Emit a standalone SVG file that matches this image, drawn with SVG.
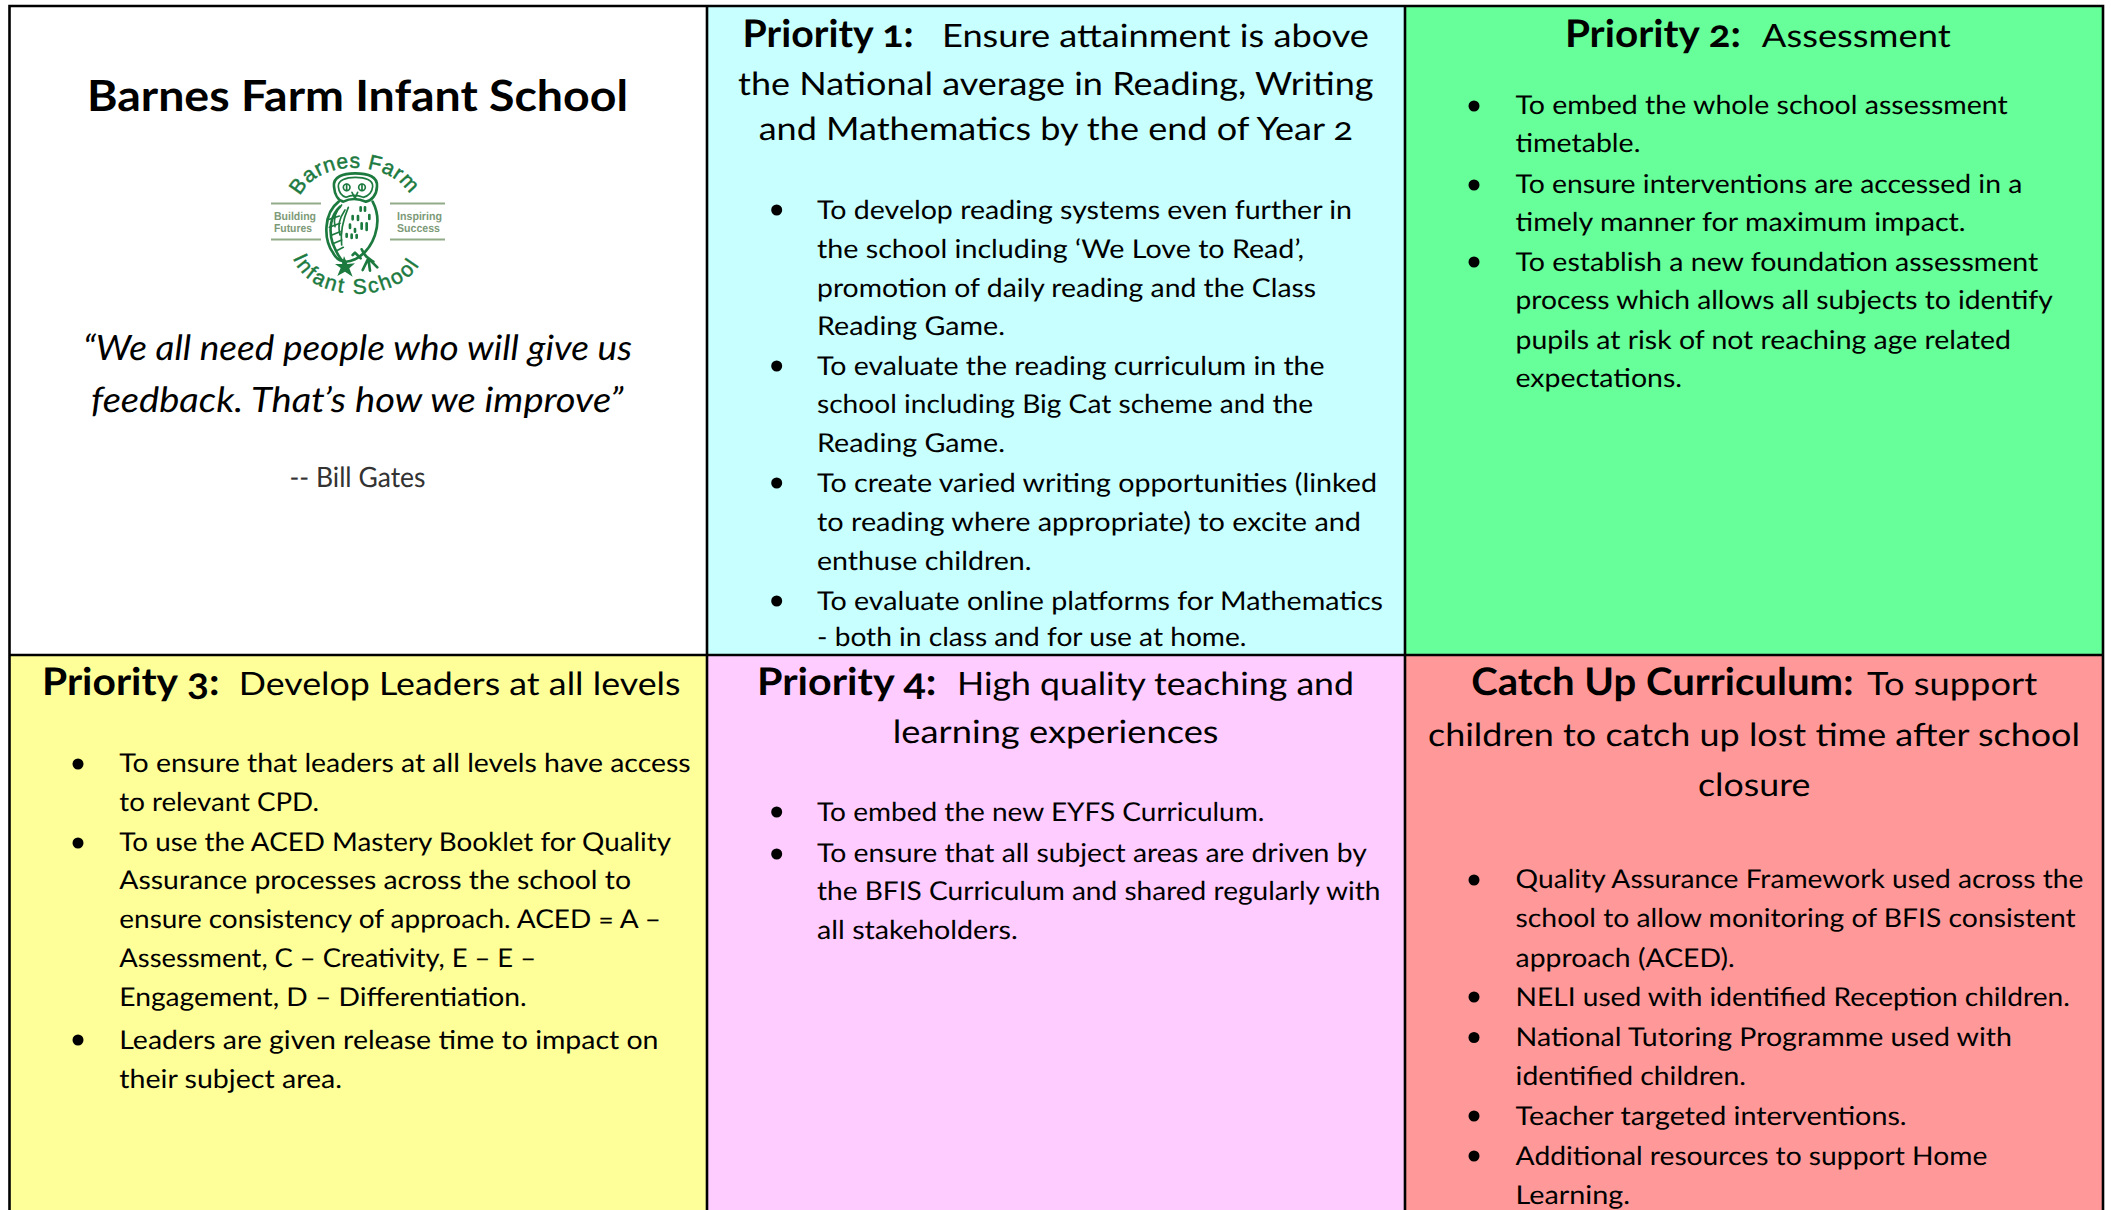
<svg xmlns="http://www.w3.org/2000/svg" width="2111" height="1210" viewBox="0 0 2111 1210">
<style>
text{font-family:"Lato","Noto Sans","Liberation Sans",sans-serif;fill:#000;font-variant-numeric:oldstyle-nums;text-rendering:geometricPrecision}
.b{font-size:26px}
.h{font-size:32px}
.hb{font-size:38px;font-weight:700}
.t{font-size:43px;font-weight:700}
.q{font-size:35px;font-style:italic}
.a{font-size:28px;fill:#333}
.bl{fill:#000}
.cell{stroke:none}
.gl{stroke:#000;stroke-width:2.6;fill:none}
.arc{font-family:"Liberation Sans",sans-serif;font-size:21px;fill:#1c7a3f;stroke:#1c7a3f;stroke-width:.5}
.sm{font-family:"Liberation Sans",sans-serif;font-size:11.5px;font-weight:700;fill:#7d9a78}
.rule{stroke:#92ab88;stroke-width:2}
.ow{fill:none;stroke:#1c7a3f;stroke-width:8;stroke-linejoin:round;stroke-linecap:round}
.ot{fill:none;stroke:#1c7a3f;stroke-width:5;stroke-linecap:round}
.sp{fill:none;stroke:#1c7a3f;stroke-width:8;stroke-linecap:round}
.of{fill:#1c7a3f}
</style>
<rect width="2111" height="1210" fill="#fff"/>
<g id="intro">
<rect class="cell" x="9.5" y="6" width="697.5" height="649" fill="#fff"/>
<text class="t" x="87" y="110.5" textLength="541" lengthAdjust="spacingAndGlyphs">Barnes Farm Infant School</text>
<g id="logo">
<line class="rule" x1="271" y1="203.5" x2="321" y2="203.5"/>
<line class="rule" x1="390" y1="203.5" x2="445" y2="203.5"/>
<line class="rule" x1="271" y1="239.5" x2="321" y2="239.5"/>
<line class="rule" x1="390" y1="239.5" x2="445" y2="239.5"/>
<text class="sm" x="274" y="219.5" textLength="42" lengthAdjust="spacingAndGlyphs">Building</text>
<text class="sm" x="274" y="231.5" textLength="38" lengthAdjust="spacingAndGlyphs">Futures</text>
<text class="sm" x="397" y="219.5" textLength="45" lengthAdjust="spacingAndGlyphs">Inspiring</text>
<text class="sm" x="397" y="231.5" textLength="43" lengthAdjust="spacingAndGlyphs">Success</text>
<path id="arcTop" d="M300 196 C318 158 392 158 412 198" fill="none"/>
<path id="arcBot" d="M293 258 C310 306 405 306 424 256" fill="none"/>
<text class="arc" letter-spacing="0.7"><textPath href="#arcTop">Barnes Farm</textPath></text>
<text class="arc" letter-spacing="2.2"><textPath href="#arcBot">Infant School</textPath></text>
<g transform="translate(240 130) scale(.3333)">
<path class="ow" d="M296 215 C250 250 250 330 280 370 C295 398 320 400 345 388 C400 360 432 280 398 215"/>
<path class="ow" d="M282 170 C278 140 310 130 345 130 C385 130 414 140 411 170 C410 195 395 212 378 215 C355 205 330 205 310 215 C295 212 284 195 282 170Z"/>
<path class="ot" d="M295 170 C293 150 320 142 346 142 C375 142 400 150 398 170 C396 190 385 198 370 202 C350 194 335 194 318 202 C305 198 297 190 295 170Z"/>
<circle class="ot" cx="320" cy="172" r="10"/>
<circle class="ot" cx="366" cy="172" r="10"/>
<path class="ot" d="M320 163V181M366 163V181"/>
<path class="ot" d="M336 187 L345 205 L353 187"/>
<path class="ow" d="M300 230 C272 255 265 300 278 340 C288 365 298 385 310 395"/>
<path class="ot" d="M305 225 C285 245 280 265 285 290M315 240 C298 265 293 285 300 315M325 232 C315 255 300 300 305 345"/>
<path class="ot" d="M268 268L298 258M268 292L300 280M274 316L300 305M282 340L305 330M290 362L310 352"/>
<path class="sp" d="M362 232v10M375 232v10M338 258v10M354 258v12M388 255v12M330 284v10M365 280v16M380 280v20M345 297v8M320 312v8M335 314v10M350 315v8"/>
<path class="of" d="M312 378 L322 402 L345 400 L328 415 L338 440 L315 425 L292 438 L302 414 L285 402 L306 402Z"/>
<path class="ow" d="M338 375 L345 368 L362 385"/>
<path class="ow" d="M365 358 C375 380 385 385 400 395M385 385 L368 420M385 385 L390 422M392 392 L412 412"/>
</g>
</g>
<text class="q" x="83" y="360" textLength="549" lengthAdjust="spacingAndGlyphs">“We all need people who will give us</text>
<text class="q" x="91" y="412" textLength="532.5" lengthAdjust="spacingAndGlyphs">feedback. That’s how we improve”</text>
<text class="a" x="289.5" y="487" textLength="136" lengthAdjust="spacingAndGlyphs">-- Bill Gates</text>
</g>
<g id="priority1">
<rect class="cell" x="707" y="6" width="698" height="649" fill="#c8ffff"/>
<text class="hb" x="742.6" y="46.5" textLength="171" lengthAdjust="spacingAndGlyphs">Priority 1:</text>
<text class="h" x="942" y="46.5" textLength="427" lengthAdjust="spacingAndGlyphs">Ensure attainment is above</text>
<text class="h" x="738" y="94.5" textLength="635.5" lengthAdjust="spacingAndGlyphs">the National average in Reading, Writing</text>
<text class="h" x="758.7" y="139.5" textLength="594.3" lengthAdjust="spacingAndGlyphs">and Mathematics by the end of Year 2</text>
<circle class="bl" cx="776.7" cy="210" r="5.5"/>
<circle class="bl" cx="776.7" cy="366" r="5.5"/>
<circle class="bl" cx="776.7" cy="483" r="5.5"/>
<circle class="bl" cx="776.7" cy="601" r="5.5"/>
<text class="b" x="817" y="219" textLength="535" lengthAdjust="spacingAndGlyphs">To develop reading systems even further in</text>
<text class="b" x="817" y="258" textLength="487" lengthAdjust="spacingAndGlyphs">the school including ‘We Love to Read’,</text>
<text class="b" x="817" y="297" textLength="499" lengthAdjust="spacingAndGlyphs">promotion of daily reading and the Class</text>
<text class="b" x="817" y="335" textLength="188" lengthAdjust="spacingAndGlyphs">Reading Game.</text>
<text class="b" x="817" y="375" textLength="507.5" lengthAdjust="spacingAndGlyphs">To evaluate the reading curriculum in the</text>
<text class="b" x="817" y="413" textLength="496" lengthAdjust="spacingAndGlyphs">school including Big Cat scheme and the</text>
<text class="b" x="817" y="452" textLength="188" lengthAdjust="spacingAndGlyphs">Reading Game.</text>
<text class="b" x="817" y="492" textLength="560" lengthAdjust="spacingAndGlyphs">To create varied writing opportunities (linked</text>
<text class="b" x="817" y="531" textLength="544" lengthAdjust="spacingAndGlyphs">to reading where appropriate) to excite and</text>
<text class="b" x="817" y="570" textLength="214.5" lengthAdjust="spacingAndGlyphs">enthuse children.</text>
<text class="b" x="817" y="610" textLength="566" lengthAdjust="spacingAndGlyphs">To evaluate online platforms for Mathematics</text>
<text class="b" x="817" y="646" textLength="429.5" lengthAdjust="spacingAndGlyphs">- both in class and for use at home.</text>
</g>
<g id="priority2">
<rect class="cell" x="1405" y="6" width="698" height="649" fill="#66ff99"/>
<text class="hb" x="1564.9" y="46.7" textLength="176.1" lengthAdjust="spacingAndGlyphs">Priority 2:</text>
<text class="h" x="1761.8" y="46.7" textLength="188.9" lengthAdjust="spacingAndGlyphs">Assessment</text>
<circle class="bl" cx="1474" cy="106" r="5.5"/>
<circle class="bl" cx="1474" cy="185" r="5.5"/>
<circle class="bl" cx="1474" cy="262" r="5.5"/>
<text class="b" x="1515.5" y="114" textLength="492.3" lengthAdjust="spacingAndGlyphs">To embed the whole school assessment</text>
<text class="b" x="1515.5" y="151.7" textLength="124.9" lengthAdjust="spacingAndGlyphs">timetable.</text>
<text class="b" x="1515.5" y="192.7" textLength="506.8" lengthAdjust="spacingAndGlyphs">To ensure interventions are accessed in a</text>
<text class="b" x="1515.5" y="230.7" textLength="450.1" lengthAdjust="spacingAndGlyphs">timely manner for maximum impact.</text>
<text class="b" x="1515.5" y="270.7" textLength="522.7" lengthAdjust="spacingAndGlyphs">To establish a new foundation assessment</text>
<text class="b" x="1515.5" y="309.3" textLength="537.2" lengthAdjust="spacingAndGlyphs">process which allows all subjects to identify</text>
<text class="b" x="1515.5" y="348.7" textLength="495.5" lengthAdjust="spacingAndGlyphs">pupils at risk of not reaching age related</text>
<text class="b" x="1515.5" y="386.7" textLength="166.5" lengthAdjust="spacingAndGlyphs">expectations.</text>
</g>
<g id="priority3">
<rect class="cell" x="9.5" y="655" width="697.5" height="555" fill="#ffff99"/>
<text class="hb" x="42" y="695" textLength="177.5" lengthAdjust="spacingAndGlyphs">Priority 3:</text>
<text class="h" x="238.7" y="695" textLength="441.8" lengthAdjust="spacingAndGlyphs">Develop Leaders at all levels</text>
<circle class="bl" cx="78" cy="764" r="5.5"/>
<circle class="bl" cx="78" cy="843" r="5.5"/>
<circle class="bl" cx="78" cy="1040" r="5.5"/>
<text class="b" x="119.3" y="771.7" textLength="571.3" lengthAdjust="spacingAndGlyphs">To ensure that leaders at all levels have access</text>
<text class="b" x="119.3" y="810.7" textLength="199.7" lengthAdjust="spacingAndGlyphs">to relevant CPD.</text>
<text class="b" x="119.3" y="850.5" textLength="551.7" lengthAdjust="spacingAndGlyphs">To use the ACED Mastery Booklet for Quality</text>
<text class="b" x="119.3" y="889.3" textLength="511.7" lengthAdjust="spacingAndGlyphs">Assurance processes across the school to</text>
<text class="b" x="119.3" y="927.7" textLength="541.7" lengthAdjust="spacingAndGlyphs">ensure consistency of approach. ACED = A –</text>
<text class="b" x="119.3" y="966.7" textLength="416.7" lengthAdjust="spacingAndGlyphs">Assessment, C – Creativity, E – E –</text>
<text class="b" x="119.3" y="1005.7" textLength="407.4" lengthAdjust="spacingAndGlyphs">Engagement, D – Differentiation.</text>
<text class="b" x="119.3" y="1048.8" textLength="539.2" lengthAdjust="spacingAndGlyphs">Leaders are given release time to impact on</text>
<text class="b" x="119.3" y="1087.8" textLength="222.7" lengthAdjust="spacingAndGlyphs">their subject area.</text>
</g>
<g id="priority4">
<rect class="cell" x="707" y="655" width="698" height="555" fill="#ffccff"/>
<text class="hb" x="757" y="695" textLength="179.5" lengthAdjust="spacingAndGlyphs">Priority 4:</text>
<text class="h" x="957" y="695" textLength="397" lengthAdjust="spacingAndGlyphs">High quality teaching and</text>
<text class="h" x="892.8" y="742.7" textLength="325.7" lengthAdjust="spacingAndGlyphs">learning experiences</text>
<circle class="bl" cx="776.7" cy="812" r="5.5"/>
<circle class="bl" cx="776.7" cy="854" r="5.5"/>
<text class="b" x="817" y="821" textLength="447.4" lengthAdjust="spacingAndGlyphs">To embed the new EYFS Curriculum.</text>
<text class="b" x="817" y="861.7" textLength="549.8" lengthAdjust="spacingAndGlyphs">To ensure that all subject areas are driven by</text>
<text class="b" x="817" y="900" textLength="563.5" lengthAdjust="spacingAndGlyphs">the BFIS Curriculum and shared regularly with</text>
<text class="b" x="817" y="938.8" textLength="200.8" lengthAdjust="spacingAndGlyphs">all stakeholders.</text>
</g>
<g id="catchup">
<rect class="cell" x="1405" y="655" width="698" height="555" fill="#ff9999"/>
<text class="hb" x="1471.2" y="694.5" textLength="382.3" lengthAdjust="spacingAndGlyphs">Catch Up Curriculum:</text>
<text class="h" x="1867" y="694.5" textLength="170.2" lengthAdjust="spacingAndGlyphs">To support</text>
<text class="h" x="1428" y="746" textLength="652" lengthAdjust="spacingAndGlyphs">children to catch up lost time after school</text>
<text class="h" x="1698" y="795.6" textLength="112.4" lengthAdjust="spacingAndGlyphs">closure</text>
<circle class="bl" cx="1474" cy="880" r="5.5"/>
<circle class="bl" cx="1474" cy="997" r="5.5"/>
<circle class="bl" cx="1474" cy="1037.5" r="5.5"/>
<circle class="bl" cx="1474" cy="1116" r="5.5"/>
<circle class="bl" cx="1474" cy="1156" r="5.5"/>
<text class="b" x="1515.6" y="888" textLength="567.8" lengthAdjust="spacingAndGlyphs">Quality Assurance Framework used across the</text>
<text class="b" x="1515.6" y="927" textLength="560.1" lengthAdjust="spacingAndGlyphs">school to allow monitoring of BFIS consistent</text>
<text class="b" x="1515.6" y="966.5" textLength="219.1" lengthAdjust="spacingAndGlyphs">approach (ACED).</text>
<text class="b" x="1515.6" y="1006" textLength="554.2" lengthAdjust="spacingAndGlyphs">NELI used with identified Reception children.</text>
<text class="b" x="1515.6" y="1045.5" textLength="496.4" lengthAdjust="spacingAndGlyphs">National Tutoring Programme used with</text>
<text class="b" x="1515.6" y="1085" textLength="230.4" lengthAdjust="spacingAndGlyphs">identified children.</text>
<text class="b" x="1515.6" y="1124.7" textLength="391" lengthAdjust="spacingAndGlyphs">Teacher targeted interventions.</text>
<text class="b" x="1515.6" y="1164.7" textLength="471.7" lengthAdjust="spacingAndGlyphs">Additional resources to support Home</text>
<text class="b" x="1515.6" y="1204.4" textLength="114.4" lengthAdjust="spacingAndGlyphs">Learning.</text>
</g>
<path id="grid" class="gl" d="M9.5 1210V6H2103V1210M707 6V1210M1405 6V1210M9.5 655H2103"/>
</svg>
